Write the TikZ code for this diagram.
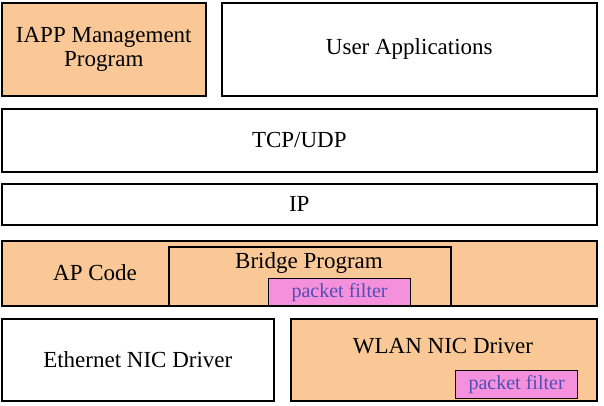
\documentclass[tikz,border=0pt]{standalone}
\usepackage{fontspec}
\setmainfont{Liberation Serif}
\definecolor{layerorange}{HTML}{FAC896}
\definecolor{filterpink}{HTML}{F590DC}
\definecolor{filterblue}{HTML}{5050B4}
\tikzset{
  layer/.style={draw, line width=1.6pt, anchor=north west, inner sep=0pt,
    font=\fontsize{23}{24}\selectfont, align=center},
  orangelayer/.style={layer, fill=layerorange},
  filter/.style={draw, line width=1.2pt, fill=filterpink, anchor=north west,
    inner sep=0pt, text=filterblue, font=\fontsize{20}{22}\selectfont}
}
\begin{document}
\begin{tikzpicture}[x=1pt,y=-1pt]
    \useasboundingbox (0,0) rectangle (604,405);
    \node[orangelayer, minimum width=204pt, minimum height=93pt] (iapp) at (1,2) {IAPP Management\\Program};
    \node[layer, minimum width=375pt, minimum height=93pt] (user) at (221,2) {User Applications};
    \node[layer, minimum width=595pt, minimum height=63pt] (tcp) at (1,108) {TCP/UDP};
    \node[layer, minimum width=595pt, minimum height=41pt] (ip) at (1,183) {IP};
    \node[orangelayer, minimum width=595pt, minimum height=65pt] (ap) at (1,240) {};
    \node[font=\fontsize{23}{24}\selectfont] (aplabel) at (95,273) {AP Code};
    \node[orangelayer, minimum width=282pt, minimum height=59pt] (bridge) at (168,246) {};
    \node[font=\fontsize{23}{24}\selectfont] (bridgelabel) at (309,263) {Bridge Program};
    \node[filter, minimum width=142pt, minimum height=27pt] (bfilter) at (268,278) {packet filter};
    \node[layer, minimum width=272pt, minimum height=82pt] (eth) at (1,318) {Ethernet NIC Driver};
    \node[orangelayer, minimum width=306pt, minimum height=82pt] (wlan) at (290,318) {};
    \node[font=\fontsize{23}{24}\selectfont] (wlanlabel) at (443,346) {WLAN NIC Driver};
    \node[filter, minimum width=122pt, minimum height=28pt] (wfilter) at (455,370) {packet filter};
\end{tikzpicture}
\end{document}
